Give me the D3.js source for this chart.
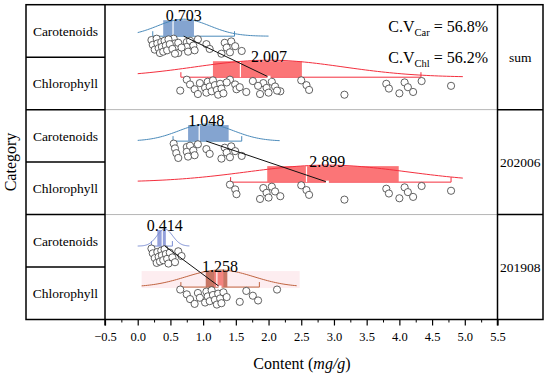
<!DOCTYPE html>
<html>
<head>
<meta charset="utf-8">
<script src="https://cdn.jsdelivr.net/npm/d3@7"></script>
<style>
body { margin: 0; background: #fff; }
svg { display: block; font-family: "Liberation Serif", "Times New Roman", serif; }
</style>
</head>
<body>
<div class="container"></div>
<script>
// ---- data ----
var categories = ['sum', '202006', '201908'];
var pigments = ['Carotenoids', 'Chlorophyll'];
var xTicks = [-0.5, 0, 0.5, 1, 1.5, 2, 2.5, 3, 3.5, 4, 4.5, 5, 5.5];

var carMean = [0.703, 1.048, 0.414];
var chlMean = [2.007, 2.899, 1.258];
var carSd = [0.40, 0.42, 0.12];
var chlSd = [1.13, 1.22, 0.52];
// q1, median, q3
var carBox = [[0.39, 0.54, 0.86], [0.77, 0.94, 1.39], [0.30, 0.375, 0.43]];
var chlBox = [[1.15, 1.57, 2.51], [1.98, 2.58, 3.99], [1.04, 1.21, 1.37]];
var carWhisker = [[0.23, 1.48], [0.54, 1.59], [0.21, 0.53]];
var chlWhisker = [[0.66, 4.33], [1.42, 4.79], [0.66, 1.86]];
var carCurve = [[0, 2.0], [0, 2.17], [0, 0.79]];
var chlCurve = [[0, 4.97], [0, 4.97], [0.06, 2.43]];
var cvLabels = [['Car', '56.8%'], ['Chl', '56.2%']];

var car202006 = [0.55, 0.57, 0.59, 0.62, 0.75, 0.75, 0.77, 0.80, 0.85, 0.87, 0.92, 1.05, 1.10, 1.28, 1.33, 1.36, 1.41, 1.43, 1.49, 1.59];
var chl202006 = [1.41, 1.49, 1.51, 1.87, 1.92, 1.97, 2.00, 2.05, 2.10, 2.18, 2.50, 2.58, 2.62, 3.16, 3.80, 3.84, 4.00, 4.08, 4.13, 4.21, 4.34, 4.79];
var car201908 = [0.21, 0.23, 0.26, 0.29, 0.30, 0.32, 0.34, 0.36, 0.37, 0.39, 0.41, 0.43, 0.45, 0.47, 0.49, 0.53, 0.57, 0.62, 0.67];
var chl201908 = [0.65, 0.75, 0.80, 0.87, 0.92, 0.95, 1.03, 1.05, 1.07, 1.10, 1.13, 1.15, 1.18, 1.21, 1.23, 1.26, 1.28, 1.31, 1.36, 1.56, 1.66, 1.76, 1.84, 2.13];
// "sum" is both campaigns together
var carPoints = [car202006.concat(car201908), car202006, car201908];
var chlPoints = [chl202006.concat(chl201908), chl202006, chl201908];

// colours per panel
var carFill = ['#7d9fcd', '#7d9fcd', '#8e9bd8'];
var carLine = ['#4a8aba', '#4a8aba', '#7b8ed3'];
var chlFill = ['#fb6e70', '#fb6e70', '#c4705d'];
var chlLine = ['#f42f3e', '#f42f3e', '#c0633f'];

// ---- layout ----
var frameL = 26, plotL = 105, plotR = 497.5, frameR = 543;
var frameT = 4.7, frameB = 319.5;
var rowBase = [31.5, 72.5];   // baseline of each pigment row inside a panel
var boxH = 16, curveH = 17;

var svg = d3.select('.container')
    .append('svg')
        .attr('width', 550)
        .attr('height', 373);

var x = d3.scaleLinear().domain([-0.5, 5.5]).range([plotL, plotR]);
var y = d3.scaleBand().domain(categories).range([frameT, frameB]);
var yRow = d3.scaleBand().domain(pigments).range([0, y.bandwidth()]);

// panel separators inside plot (grey)
svg.selectAll('.sep')
    .data(categories.slice(1))
    .enter().append('line')
        .attr('x1', plotL).attr('x2', plotR)
        .attr('y1', function(d) { return y(d); })
        .attr('y2', function(d) { return y(d); })
        .style('stroke', '#b5b5b5')
        .style('stroke-width', 1);

function drawGroup(p, k, mean, sd, box, wh, curve, pts, fill, line) {
    var g = svg.append('g');
    var base = y(categories[p]) + rowBase[k];

    if (p === 2 && k === 1) {
        g.append('rect')
            .attr('x', x(curve[0])).attr('y', base - boxH)
            .attr('width', x(curve[1]) - x(curve[0]) + 3).attr('height', boxH + 1)
            .style('fill', '#fdedf0');
    }

    // whisker line and end ticks
    g.append('line')
        .attr('x1', x(wh[0])).attr('x2', x(wh[1]))
        .attr('y1', base).attr('y2', base)
        .style('stroke', line).style('stroke-width', 1);
    g.selectAll('.tk').data(wh).enter().append('line')
        .attr('x1', function(d) { return x(d); })
        .attr('x2', function(d) { return x(d); })
        .attr('y1', base).attr('y2', base - 5)
        .style('stroke', line).style('stroke-width', 1);

    // box
    g.append('rect')
        .attr('x', x(box[0])).attr('y', base - boxH)
        .attr('width', x(box[2]) - x(box[0])).attr('height', boxH)
        .style('fill', fill).style('opacity', 0.95);
    if (p === 2 && k === 1) {
        g.append('rect')
            .attr('x', x(1.17)).attr('y', base - boxH)
            .attr('width', x(1.31) - x(1.17)).attr('height', boxH)
            .style('fill', '#f3837f');
    }
    g.append('line')
        .attr('x1', x(box[1])).attr('x2', x(box[1]))
        .attr('y1', base - boxH).attr('y2', base)
        .style('stroke', '#fff').style('stroke-width', 1.2);

    // normal curve
    var n = 80, xs = [];
    for (var i = 0; i <= n; i++) xs.push(curve[0] + (curve[1] - curve[0]) * i / n);
    var path = d3.line()
        .x(function(v) { return x(v); })
        .y(function(v) { var z = (v - mean) / sd; return base - curveH * Math.exp(-z * z / 2); });
    g.append('path')
        .attr('d', path(xs))
        .style('fill', 'none').style('stroke', line).style('stroke-width', 1);

    // jittered points
    g.selectAll('circle').data(pts).enter().append('circle')
        .attr('cx', function(d) { return x(d); })
        .attr('cy', function(d, i) { return base + 2.5 + 15 * ((i * 53) % 23) / 22; })
        .attr('r', 3.6)
        .style('fill', '#fff')
        .style('stroke', '#3a3a3a')
        .style('stroke-width', 0.8);

    // mean label
    g.append('text')
        .attr('x', x(mean)).attr('y', base - boxH + 1)
        .attr('text-anchor', 'middle')
        .style('font-size', '16px')
        .text(mean.toFixed(3));
    return base;
}

categories.forEach(function(c, p) {
    var b0 = drawGroup(p, 0, carMean[p], carSd[p], carBox[p], carWhisker[p], carCurve[p], carPoints[p], carFill[p], carLine[p]);
    var b1 = drawGroup(p, 1, chlMean[p], chlSd[p], chlBox[p], chlWhisker[p], chlCurve[p], chlPoints[p], chlFill[p], chlLine[p]);
    svg.append('line')
        .attr('x1', x(carMean[p])).attr('y1', b0)
        .attr('x2', x(chlMean[p])).attr('y2', b1)
        .style('stroke', '#111').style('stroke-width', 1);
    svg.append('rect')
        .attr('x', x(chlMean[p]) - 1.5).attr('y', b1 - 1.5)
        .attr('width', 3).attr('height', 3)
        .style('fill', '#fff');
});

// C.V labels
cvLabels.forEach(function(d, i) {
    var t = svg.append('text')
        .attr('x', 488).attr('y', 31.7 + i * 31.6)
        .attr('text-anchor', 'end')
        .style('font-size', '16px');
    t.append('tspan').text('C.V');
    t.append('tspan').attr('dy', 4).style('font-size', '10.5px').text(d[0]);
    t.append('tspan').attr('dy', -4).text(' = ' + d[1]);
});

// frame and table columns
var frame = svg.append('g').style('stroke', '#000').style('stroke-width', 1.5).style('fill', 'none');
frame.append('rect').attr('x', frameL).attr('y', frameT).attr('width', frameR - frameL).attr('height', frameB - frameT);
frame.append('line').attr('x1', plotL).attr('x2', plotL).attr('y1', frameT).attr('y2', frameB + 6);
frame.append('line').attr('x1', plotR).attr('x2', plotR).attr('y1', frameT).attr('y2', frameB + 6);
categories.slice(1).forEach(function(c) {
    frame.append('line').attr('x1', frameL).attr('x2', plotL).attr('y1', y(c)).attr('y2', y(c));
    frame.append('line').attr('x1', plotR).attr('x2', frameR).attr('y1', y(c)).attr('y2', y(c));
});
categories.forEach(function(c) {
    frame.append('line').attr('x1', frameL).attr('x2', plotL)
        .attr('y1', y(c) + yRow.bandwidth()).attr('y2', y(c) + yRow.bandwidth());
});

// left and right labels
categories.forEach(function(c) {
    pigments.forEach(function(pg) {
        svg.append('text')
            .attr('x', (frameL + plotL) / 2)
            .attr('y', y(c) + yRow(pg) + yRow.bandwidth() / 2)
            .attr('dy', '0.35em')
            .attr('text-anchor', 'middle')
            .style('font-size', '13.5px')
            .text(pg);
    });
    svg.append('text')
        .attr('x', (plotR + frameR) / 2)
        .attr('y', y(c) + y.bandwidth() / 2)
        .attr('dy', '0.35em')
        .attr('text-anchor', 'middle')
        .style('font-size', '13.5px')
        .text(c);
});

// x axis
var minor = xTicks.slice(1).map(function(t) { return t - 0.25; });
svg.append('g')
    .attr('transform', 'translate(0,' + frameB + ')')
    .call(d3.axisBottom(x).tickValues(minor).tickSize(3).tickFormat(''))
    .call(function(g) { g.select('.domain').remove(); });
var ax = svg.append('g')
    .attr('transform', 'translate(0,' + frameB + ')')
    .call(d3.axisBottom(x).tickValues(xTicks).tickSize(6).tickSizeOuter(0).tickFormat(d3.format('.1f')));
ax.select('.domain').remove();
ax.selectAll('line').style('stroke-width', 1.2);
ax.selectAll('text')
    .attr('y', 13)
    .style('font-size', '12.5px')
    .style('font-family', '"Liberation Serif", serif');

var title = svg.append('text')
    .attr('x', 302).attr('y', 369)
    .attr('text-anchor', 'middle')
    .style('font-size', '16px');
title.append('tspan').text('Content (');
title.append('tspan').style('font-style', 'italic').text('mg/g');
title.append('tspan').text(')');

svg.append('text')
    .attr('transform', 'translate(16,162) rotate(-90)')
    .attr('text-anchor', 'middle')
    .style('font-size', '16px')
    .text('Category');
</script>
</body>
</html>
